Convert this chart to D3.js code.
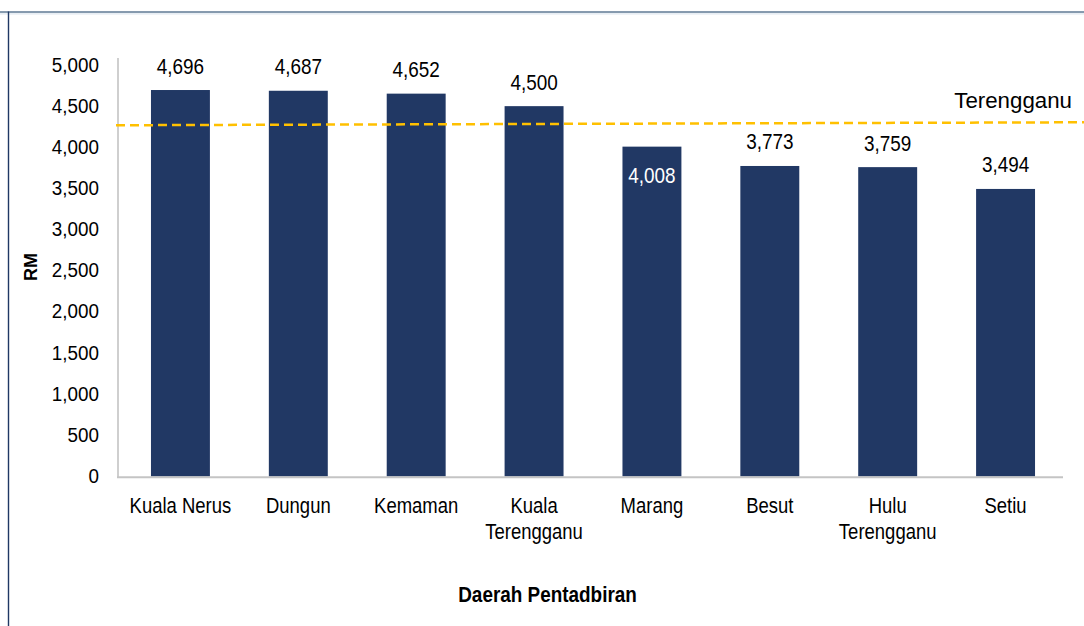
<!DOCTYPE html>
<html>
<head>
<meta charset="utf-8">
<script src="https://cdn.jsdelivr.net/npm/d3@7"></script>
<style>
  html, body { margin: 0; padding: 0; background: #fff; }
  svg { display: block; font-family: "Liberation Sans", Arial, sans-serif; }
</style>
</head>
<body>
<svg id="chart" width="1084" height="626"></svg>
<script>
// ---- data ----
const categories = ["Kuala Nerus", "Dungun", "Kemaman", "Kuala Terengganu", "Marang", "Besut", "Hulu Terengganu", "Setiu"];
const categoryLines = [["Kuala Nerus"], ["Dungun"], ["Kemaman"], ["Kuala", "Terengganu"], ["Marang"], ["Besut"], ["Hulu", "Terengganu"], ["Setiu"]];
const values = [4696, 4687, 4652, 4500, 4008, 3773, 3759, 3494];
const yTicks = [0, 500, 1000, 1500, 2000, 2500, 3000, 3500, 4000, 4500, 5000];
const stateLabel = "Terengganu";
const stateLineValues = [4268, 4304];   // dashed reference line (left end, right end as drawn)
const insideLabelIndex = [4];           // Marang label drawn inside the bar
const yTitle = "RM";
const xTitle = "Daerah Pentadbiran";

// ---- layout ----
const svg = d3.select("#chart");
const W = 1084, H = 626;

const x = d3.scaleBand().domain(categories).range([121.5, 1064.5]).paddingInner(0.5).paddingOuter(0.25);
const y = d3.scaleLinear().domain([0, 5000]).range([476.5, 65]);
const fmt = d3.format(",");

// frame
svg.append("rect").attr("x", 0).attr("y", 12.7).attr("width", W).attr("height", 2).attr("fill", "#e8eef4");
svg.append("line").attr("x1", 0).attr("x2", W).attr("y1", 12).attr("y2", 12)
  .attr("stroke", "#5f7a94").attr("stroke-width", 1.4);
svg.append("line").attr("x1", 8.5).attr("x2", 8.5).attr("y1", 11.5).attr("y2", H)
  .attr("stroke", "#1f3864").attr("stroke-width", 1.4);

function txt(g, xPos, yPos, s, size, sx, anchor, weight, fill) {
  return g.append("text")
    .attr("transform", `translate(${xPos},${yPos}) scale(${sx},1)`)
    .attr("text-anchor", anchor)
    .attr("font-size", size)
    .attr("font-weight", weight || "normal")
    .attr("fill", fill || "#000")
    .text(s);
}

// y tick labels
const gy = svg.append("g");
yTicks.forEach(t => {
  txt(gy, 99, y(t) + 6.5, fmt(t), 20.5, 0.92, "end");
});

// bars
svg.append("g").selectAll("rect").data(values).join("rect")
  .attr("x", (d, i) => x(categories[i]))
  .attr("y", d => y(d))
  .attr("width", x.bandwidth())
  .attr("height", d => y(0) - y(d))
  .attr("fill", "#213864");

// axis lines
svg.append("line").attr("x1", 118).attr("x2", 118).attr("y1", 58).attr("y2", y(0) + 1)
  .attr("stroke", "#bfbfbf").attr("stroke-width", 1.5);
svg.append("line").attr("x1", 117).attr("x2", 1063).attr("y1", y(0) + 0.8).attr("y2", y(0) + 0.8)
  .attr("stroke", "#c4c4c4").attr("stroke-width", 2);

// value labels
const gv = svg.append("g");
values.forEach((v, i) => {
  const cx = x(categories[i]) + x.bandwidth() / 2;
  if (insideLabelIndex.includes(i)) {
    txt(gv, cx, y(v) + 36, fmt(v), 22, 0.86, "middle", "normal", "#ffffff");
  } else {
    txt(gv, cx, y(v) - 16.5, fmt(v), 22, 0.86, "middle");
  }
});

// category labels
const gc = svg.append("g");
categoryLines.forEach((lines, i) => {
  const cx = x(categories[i]) + x.bandwidth() / 2;
  lines.forEach((ln, j) => {
    txt(gc, cx, 512.7 + j * 26.6, ln, 21.5, 0.86, "middle");
  });
});

// reference dashed line
svg.append("line")
  .attr("x1", 116).attr("x2", W)
  .attr("y1", y(stateLineValues[0])).attr("y2", y(stateLineValues[1]))
  .attr("stroke", "#ffc000").attr("stroke-width", 2.5)
  .attr("stroke-dasharray", "9,5");
txt(svg, 1072, 108, stateLabel, 23, 0.97, "end");

// titles
svg.append("text")
  .attr("transform", "translate(36.7,267) rotate(-90)")
  .attr("text-anchor", "middle").attr("font-size", 18).attr("font-weight", "bold")
  .text(yTitle);
txt(svg, 547.5, 601.7, xTitle, 22, 0.86, "middle", "bold");
</script>
</body>
</html>
